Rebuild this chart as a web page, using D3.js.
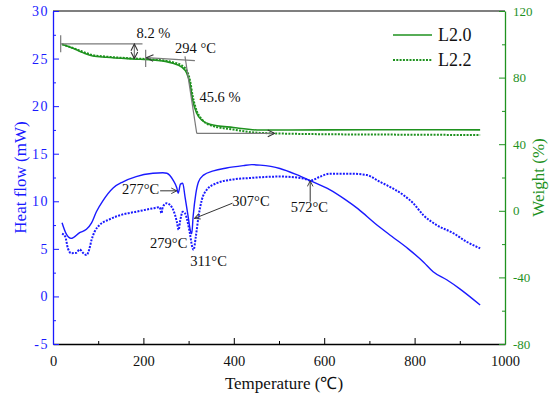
<!DOCTYPE html>
<html>
<head>
<meta charset="utf-8">
<script src="https://cdn.jsdelivr.net/npm/d3@7"></script>
<style>
  body { margin: 0; background: #fff; }
  svg text { font-family: 'Liberation Serif', 'Times New Roman', serif !important; }
</style>
</head>
<body>
<div id="chart"></div>
<script>
// DSC heat flow (mW), left axis
const dscTempA = [20, 29, 40, 59, 74, 85, 96, 111, 133, 155, 184, 221, 243, 252, 266, 274, 277, 282, 287, 292, 299, 304, 307, 310, 316, 322, 333, 355, 384, 421, 440, 458, 502, 539, 569, 613, 646, 675, 712, 750, 786, 820, 841, 871, 900, 945];
const dscA = [7.75, 6.6, 6.1, 6.7, 7.05, 7.7, 8.9, 10.1, 11.4, 12.05, 12.6, 12.94, 13.0, 12.95, 12.2, 11.4, 10.85, 11.8, 11.9, 10.5, 8.4, 6.9, 6.6, 8.4, 10.8, 12.05, 12.75, 13.2, 13.5, 13.75, 13.85, 13.8, 13.45, 12.8, 12.17, 11.2, 10.2, 9.2, 7.7, 6.3, 5.0, 3.6, 2.6, 1.75, 0.8, -0.9];

const dscTempB = [20, 27, 33, 40, 52, 59, 66, 74, 80, 85, 92, 103, 125, 155, 184, 221, 236, 240, 243, 252, 259, 266, 274, 278, 281, 287, 292, 297, 303, 308, 311, 316, 322, 329, 340, 362, 399, 436, 502, 554, 569, 591, 613, 657, 694, 723, 738, 775, 797, 819, 849, 886, 915, 945];
const dscB = [6.6, 6.3, 5.05, 4.55, 4.6, 4.95, 4.6, 4.35, 4.9, 5.9, 6.8, 7.5, 8.1, 8.63, 8.9, 9.26, 9.37, 8.74, 9.43, 9.8, 9.6, 9.1, 7.85, 7.0, 7.85, 8.9, 8.74, 8.0, 6.6, 5.2, 4.9, 6.3, 8.4, 10.1, 11.2, 11.9, 12.3, 12.45, 12.6, 12.4, 12.17, 12.6, 12.9, 12.9, 12.76, 12.05, 11.7, 10.66, 9.8, 8.56, 7.5, 6.64, 5.75, 5.06];

// TGA weight (%), right axis
const tgaTempA = [20, 44, 66, 88, 118, 177, 221, 265, 284, 296, 303, 309, 318, 329, 347, 399, 458, 600, 800, 945];
const tgaA = [100, 97.6, 95, 93, 92.2, 91.2, 90.6, 88.6, 86.5, 82.6, 76.6, 66.5, 58.6, 54.5, 52, 50, 48.5, 48.6, 48.7, 48.6];
const tgaTempB = [20, 44, 66, 88, 118, 177, 221, 265, 284, 296, 303, 309, 318, 329, 347, 399, 458, 600, 800, 945];
const tgaB = [100, 97.8, 95.5, 93.5, 92.6, 91.5, 90.9, 89.2, 87.5, 84, 78.5, 69, 60, 55, 51.5, 48.8, 46.8, 46, 45.7, 45.5];

const seriesNames = ['L2.0', 'L2.2'];
const xTicks = [0, 200, 400, 600, 800, 1000];
const leftTicks = [-5, 0, 5, 10, 15, 20, 25, 30];
const rightTicks = [-80, -40, 0, 40, 80, 120];

// peak labels on DSC curves: [text, T at centre, mW at baseline]
const peakLabels = [
  ['277°C', 194, 10.75],
  ['279°C', 256, 5.1],
  ['311°C', 344, 3.2],
  ['307°C', 438, 9.5],
  ['572°C', 567, 8.85]
];
// peak arrows: [T1, mW1, T2, mW2], head at the second point
const peakArrows = [
  [237, 11.1, 274, 11.1],
  [397, 9.8, 313, 8.2],
  [569, 9.95, 569, 12.15]
];

const width = 550, height = 398;
const margin = {top: 11, right: 45, bottom: 54, left: 53};
const blue = '#1a1aff', green = '#1f921f', gray = '#7a7a7a';
const fmt = d => String(d);

const svg = d3.select('#chart').append('svg')
  .attr('width', width).attr('height', height);

const x = d3.scaleLinear().domain([0, 1000]).range([margin.left, width - margin.right]);
const yL = d3.scaleLinear().domain([-5, 30]).range([height - margin.bottom, margin.top]);
const yR = d3.scaleLinear().domain([-80, 120]).range([height - margin.bottom, margin.top]);

const defs = svg.append('defs');
defs.append('marker').attr('id', 'arr')
  .attr('viewBox', '0 0 10 10').attr('refX', 9).attr('refY', 5)
  .attr('markerWidth', 7).attr('markerHeight', 7).attr('orient', 'auto-start-reverse')
  .append('path').attr('d', 'M1,1 L9,5 L1,9').attr('fill', 'none').attr('stroke', '#333').attr('stroke-width', 1.3);

// top frame line
svg.append('line')
  .attr('x1', x(0)).attr('x2', x(1000)).attr('y1', yL(30)).attr('y2', yL(30))
  .attr('stroke', '#000').attr('stroke-width', 1.2);

// axes
const xAxis = svg.append('g').attr('transform', `translate(0,${yL(-5)})`)
  .call(d3.axisBottom(x).tickValues(xTicks).tickFormat(fmt).tickSizeInner(-6).tickSizeOuter(0).tickPadding(12));
svg.append('g').attr('transform', `translate(0,${yL(-5)})`)
  .call(d3.axisBottom(x).tickValues(d3.range(100, 1000, 200)).tickSize(-3).tickFormat(''))
  .call(g => g.select('.domain').remove());
xAxis.selectAll('text').attr('font-size', 14.5).attr('fill', '#111');
xAxis.select('.domain').attr('stroke', '#000').attr('stroke-width', 1.3);

const lAxis = svg.append('g').attr('transform', `translate(${x(0)},0)`)
  .call(d3.axisLeft(yL).tickValues(leftTicks).tickFormat(fmt).tickSizeInner(-6).tickSizeOuter(0).tickPadding(4));
svg.append('g').attr('transform', `translate(${x(0)},0)`)
  .call(d3.axisLeft(yL).tickValues(d3.range(-2.5, 30, 5)).tickSize(-3).tickFormat(''))
  .call(g => g.select('.domain').remove())
  .selectAll('line').attr('stroke', blue);
lAxis.selectAll('text').attr('font-size', 14).attr('fill', blue).attr('letter-spacing', 1.5);
lAxis.selectAll('line').attr('stroke', blue);
lAxis.select('.domain').attr('stroke', blue).attr('stroke-width', 1.3);

const rAxis = svg.append('g').attr('transform', `translate(${x(1000)},0)`)
  .call(d3.axisRight(yR).tickValues(rightTicks).tickFormat(fmt).tickSizeInner(-6).tickSizeOuter(0).tickPadding(8));
svg.append('g').attr('transform', `translate(${x(1000)},0)`)
  .call(d3.axisRight(yR).tickValues(d3.range(-60, 120, 40)).tickSize(-3).tickFormat(''))
  .call(g => g.select('.domain').remove())
  .selectAll('line').attr('stroke', green);
rAxis.selectAll('text').attr('font-size', 13).attr('fill', green);
rAxis.selectAll('line').attr('stroke', green);
rAxis.select('.domain').attr('stroke', green).attr('stroke-width', 1.3);

// axis titles
svg.append('text')
  .attr('x', (x(0) + x(1000)) / 2 + 5).attr('y', 389)
  .attr('text-anchor', 'middle').attr('font-size', 17).attr('fill', '#111')
  .text('Temperature (℃)');
svg.append('text')
  .attr('transform', `translate(20,${(yL(30) + yL(-5)) / 2}) rotate(-90)`)
  .attr('text-anchor', 'middle').attr('dy', '0.35em').attr('font-size', 17).attr('fill', blue)
  .text('Heat flow (mW)');
svg.append('text')
  .attr('transform', `translate(538,${(yR(120) + yR(-80)) / 2}) rotate(-90)`)
  .attr('text-anchor', 'middle').attr('dy', '0.35em').attr('font-size', 17).attr('fill', green)
  .text('Weight (%)');

// curves
const zipLine = (ts, vs) => ts.map((t, i) => [t, vs[i]]);
const lineL = d3.line().x(d => x(d[0])).y(d => yL(d[1])).curve(d3.curveMonotoneX);
const lineR = d3.line().x(d => x(d[0])).y(d => yR(d[1])).curve(d3.curveMonotoneX);

svg.append('path').datum(zipLine(tgaTempB, tgaB)).attr('d', lineR)
  .attr('fill', 'none').attr('stroke', green).attr('stroke-width', 2).attr('stroke-dasharray', '2,1.3');
svg.append('path').datum(zipLine(tgaTempA, tgaA)).attr('d', lineR)
  .attr('fill', 'none').attr('stroke', green).attr('stroke-width', 1.6);

svg.append('path').datum(zipLine(dscTempA, dscA)).attr('d', lineL)
  .attr('fill', 'none').attr('stroke', blue).attr('stroke-width', 1.4);
svg.append('path').datum(zipLine(dscTempB, dscB)).attr('d', lineL)
  .attr('fill', 'none').attr('stroke', blue).attr('stroke-width', 2).attr('stroke-dasharray', '2,1.3');

// TGA annotations (T, weight %)
const ann = svg.append('g').attr('stroke', gray).attr('stroke-width', 1.2).attr('fill', 'none');
const seg = (t1, w1, t2, w2) => ann.append('line')
  .attr('x1', x(t1)).attr('y1', yR(w1)).attr('x2', x(t2)).attr('y2', yR(w2));
seg(17, 100.2, 198, 100.2);
seg(17, 105.5, 17, 95.2);
seg(180, 100.2, 180, 91.4).attr('marker-start', 'url(#arr)').attr('marker-end', 'url(#arr)');
seg(205, 96.8, 205, 86.4);
seg(207, 92, 314, 90.2).attr('marker-start', 'url(#arr)');
seg(292, 92.8, 318, 46.5);
seg(318, 46.5, 490, 46.5).attr('marker-end', 'url(#arr)');

const annText = svg.append('g').attr('font-size', 14.5).attr('fill', '#111');
annText.append('text').attr('x', x(185)).attr('y', yR(104)).text('8.2 %');
annText.append('text').attr('x', x(270)).attr('y', yR(94.8)).text('294 °C');
annText.append('text').attr('x', x(324)).attr('y', yR(65.3)).text('45.6 %');

// DSC peak labels and arrows
const pk = svg.append('g').attr('font-size', 14.5).attr('fill', '#111');
peakLabels.forEach(([t, tx, v]) => {
  pk.append('text').attr('x', x(tx)).attr('y', yL(v)).attr('text-anchor', 'middle').text(t);
});
svg.append('g').selectAll('line').data(peakArrows).join('line')
  .attr('x1', d => x(d[0])).attr('y1', d => yL(d[1]))
  .attr('x2', d => x(d[2])).attr('y2', d => yL(d[3]))
  .attr('stroke', '#333').attr('stroke-width', 1).attr('marker-end', 'url(#arr)');

// legend
const leg = svg.append('g');
seriesNames.forEach((name, i) => {
  const yy = 35 + i * 25;
  leg.append('line').attr('x1', 393).attr('x2', 432).attr('y1', yy).attr('y2', yy)
    .attr('stroke', green).attr('stroke-width', i ? 2 : 1.6)
    .attr('stroke-dasharray', i ? '2,1.3' : null);
  leg.append('text').attr('x', 438).attr('y', yy).attr('dy', '0.35em')
    .attr('font-size', 18).attr('fill', '#111').text(name);
});
</script>
</body>
</html>
